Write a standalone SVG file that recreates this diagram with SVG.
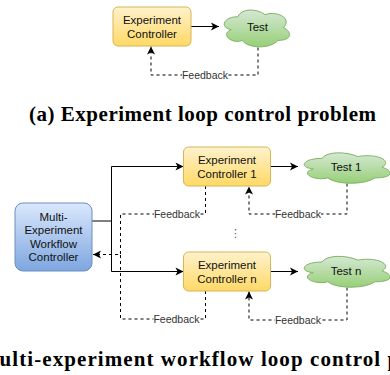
<svg xmlns="http://www.w3.org/2000/svg" width="390" height="375" viewBox="0 0 390 375">
<defs>
<linearGradient id="gY" x1="0" y1="0" x2="0" y2="1"><stop offset="0" stop-color="#fff2cc"/><stop offset="1" stop-color="#ffd966"/></linearGradient>
<linearGradient id="gG" x1="0" y1="0" x2="0" y2="1"><stop offset="0" stop-color="#d5e8d4"/><stop offset="1" stop-color="#97d077"/></linearGradient>
<linearGradient id="gB" x1="0" y1="0" x2="0" y2="1"><stop offset="0" stop-color="#dae8fc"/><stop offset="1" stop-color="#7ea6e0"/></linearGradient>
<marker id="arr" markerUnits="userSpaceOnUse" markerWidth="10" markerHeight="10" refX="8" refY="4" orient="auto" overflow="visible">
<path d="M0,0 L8,4 L0,8 L2,4 Z" fill="#000" stroke="none"/>
</marker>
<style>
.ec{fill:url(#gY);stroke:#d6b656;stroke-width:1}
.cl{fill:url(#gG);stroke:#82b366;stroke-width:1}
.mw{fill:url(#gB);stroke:#6c8ebf;stroke-width:1}
.t{font-family:"Liberation Sans",Arial,sans-serif;font-size:11.5px;fill:#111;text-anchor:middle}
.fb{font-family:"Liberation Sans",Arial,sans-serif;font-size:10.5px;fill:#333;text-anchor:middle}
.lb{fill:#fff;stroke:none}
.s{fill:none;stroke:#000;stroke-width:1}
.d{fill:none;stroke:#000;stroke-width:1;stroke-dasharray:3 3}
.cap{font-family:"Liberation Serif","Times New Roman",serif;font-weight:bold;font-size:21px;fill:#000;text-anchor:middle}
</style>
</defs>
<rect width="390" height="375" fill="#fff"/>

<g id="connectors">
<path class="s" d="M191,26.5 H219" marker-end="url(#arr)"/>
<path class="d" d="M258,47.5 V75 H151 V46.5" marker-end="url(#arr)"/>
<path class="s" d="M92,221 H111.5 V166.5 H183.5" marker-end="url(#arr)"/>
<path class="s" d="M111.5,221 V271.5 H183.5" marker-end="url(#arr)"/>
<path class="s" d="M270.5,166.5 H298" marker-end="url(#arr)"/>
<path class="s" d="M270.5,271.5 H298" marker-end="url(#arr)"/>
<path class="d" d="M205.5,186 V214 H120.5 V254.5 H93" marker-end="url(#arr)"/>
<path class="d" d="M205.5,291 V319 H120.5 V254.5"/>
<path class="d" d="M347,183.5 V214 H249 V186.5" marker-end="url(#arr)"/>
<path class="d" d="M347,287.5 V320 H249 V291.5" marker-end="url(#arr)"/>
<g id="feedback-labels">
<rect class="lb" x="182" y="69.5" width="46" height="11"/><text class="fb" x="205" y="78.7">Feedback</text>
<rect class="lb" x="154" y="208.5" width="46" height="11"/><text class="fb" x="177" y="217.7">Feedback</text>
<rect class="lb" x="275" y="208.5" width="46" height="11"/><text class="fb" x="298" y="217.7">Feedback</text>
<rect class="lb" x="153.5" y="313.5" width="46" height="11"/><text class="fb" x="176.5" y="322.7">Feedback</text>
<rect class="lb" x="275" y="314.5" width="46" height="11"/><text class="fb" x="298" y="323.7">Feedback</text>
</g>
</g>

<g id="experiment-controller">
<rect class="ec" x="113" y="7" width="78" height="39" rx="5"/>
<text class="t" x="152" y="24">Experiment</text>
<text class="t" x="152" y="37.5">Controller</text>
</g>
<g id="test">
<path class="cl" d="M237.75,16.75 C223.15,16.75 219.5,27.5 231.18,29.65 C219.5,34.38 232.64,44.7 242.13,40.4 C248.7,49 270.6,49 277.9,40.4 C292.5,40.4 292.5,31.8 283.38,27.5 C292.5,18.9 277.9,10.3 265.13,14.6 C256,8.15 241.4,8.15 237.75,16.75 Z"/>
<text class="t" x="257.5" y="31">Test</text>
</g>

<g id="multi-experiment-workflow-controller">
<rect class="mw" x="15" y="203" width="77" height="68" rx="8"/>
<text class="t" x="53.5" y="221">Multi-</text>
<text class="t" x="53.5" y="234.3">Experiment</text>
<text class="t" x="53.5" y="247.7">Workflow</text>
<text class="t" x="53.5" y="261.1">Controller</text>
</g>
<g id="experiment-controller-1">
<rect class="ec" x="183.5" y="147" width="87" height="39" rx="5"/>
<text class="t" x="227" y="163.5">Experiment</text>
<text class="t" x="227" y="177.5">Controller 1</text>
</g>
<g id="test-1">
<path class="cl" d="M322,158.38 C302.8,158.38 298,167.25 313.36,169.03 C298,172.93 315.28,181.45 327.76,177.9 C336.4,185 365.2,185 374.8,177.9 C394,177.9 394,170.8 382,167.25 C394,160.15 374.8,153.05 358,156.6 C346,151.28 326.8,151.28 322,158.38 Z"/>
<text class="t" x="346" y="171">Test 1</text>
</g>
<g id="ellipsis">
<text x="235.5" y="237" font-family="DejaVu Sans,sans-serif" font-size="11" fill="#555" text-anchor="middle">⋮</text>
</g>
<g id="experiment-controller-n">
<rect class="ec" x="183.5" y="252" width="87" height="39" rx="5"/>
<text class="t" x="227" y="268.5">Experiment</text>
<text class="t" x="227" y="282.5">Controller n</text>
</g>
<g id="test-n">
<path class="cl" d="M322,262 C302.8,262 298,271 313.36,272.8 C298,276.76 315.28,285.4 327.76,281.8 C336.4,289 365.2,289 374.8,281.8 C394,281.8 394,274.6 382,271 C394,263.8 374.8,256.6 358,260.2 C346,254.8 326.8,254.8 322,262 Z"/>
<text class="t" x="346" y="275">Test n</text>
</g>

<text class="cap" x="202.5" y="120.5" textLength="347" lengthAdjust="spacing">(a) Experiment loop control problem</text>
<text class="cap" x="206.5" y="365.5" textLength="526" lengthAdjust="spacing">(b) Multi-experiment workflow loop control problem</text>
</svg>
